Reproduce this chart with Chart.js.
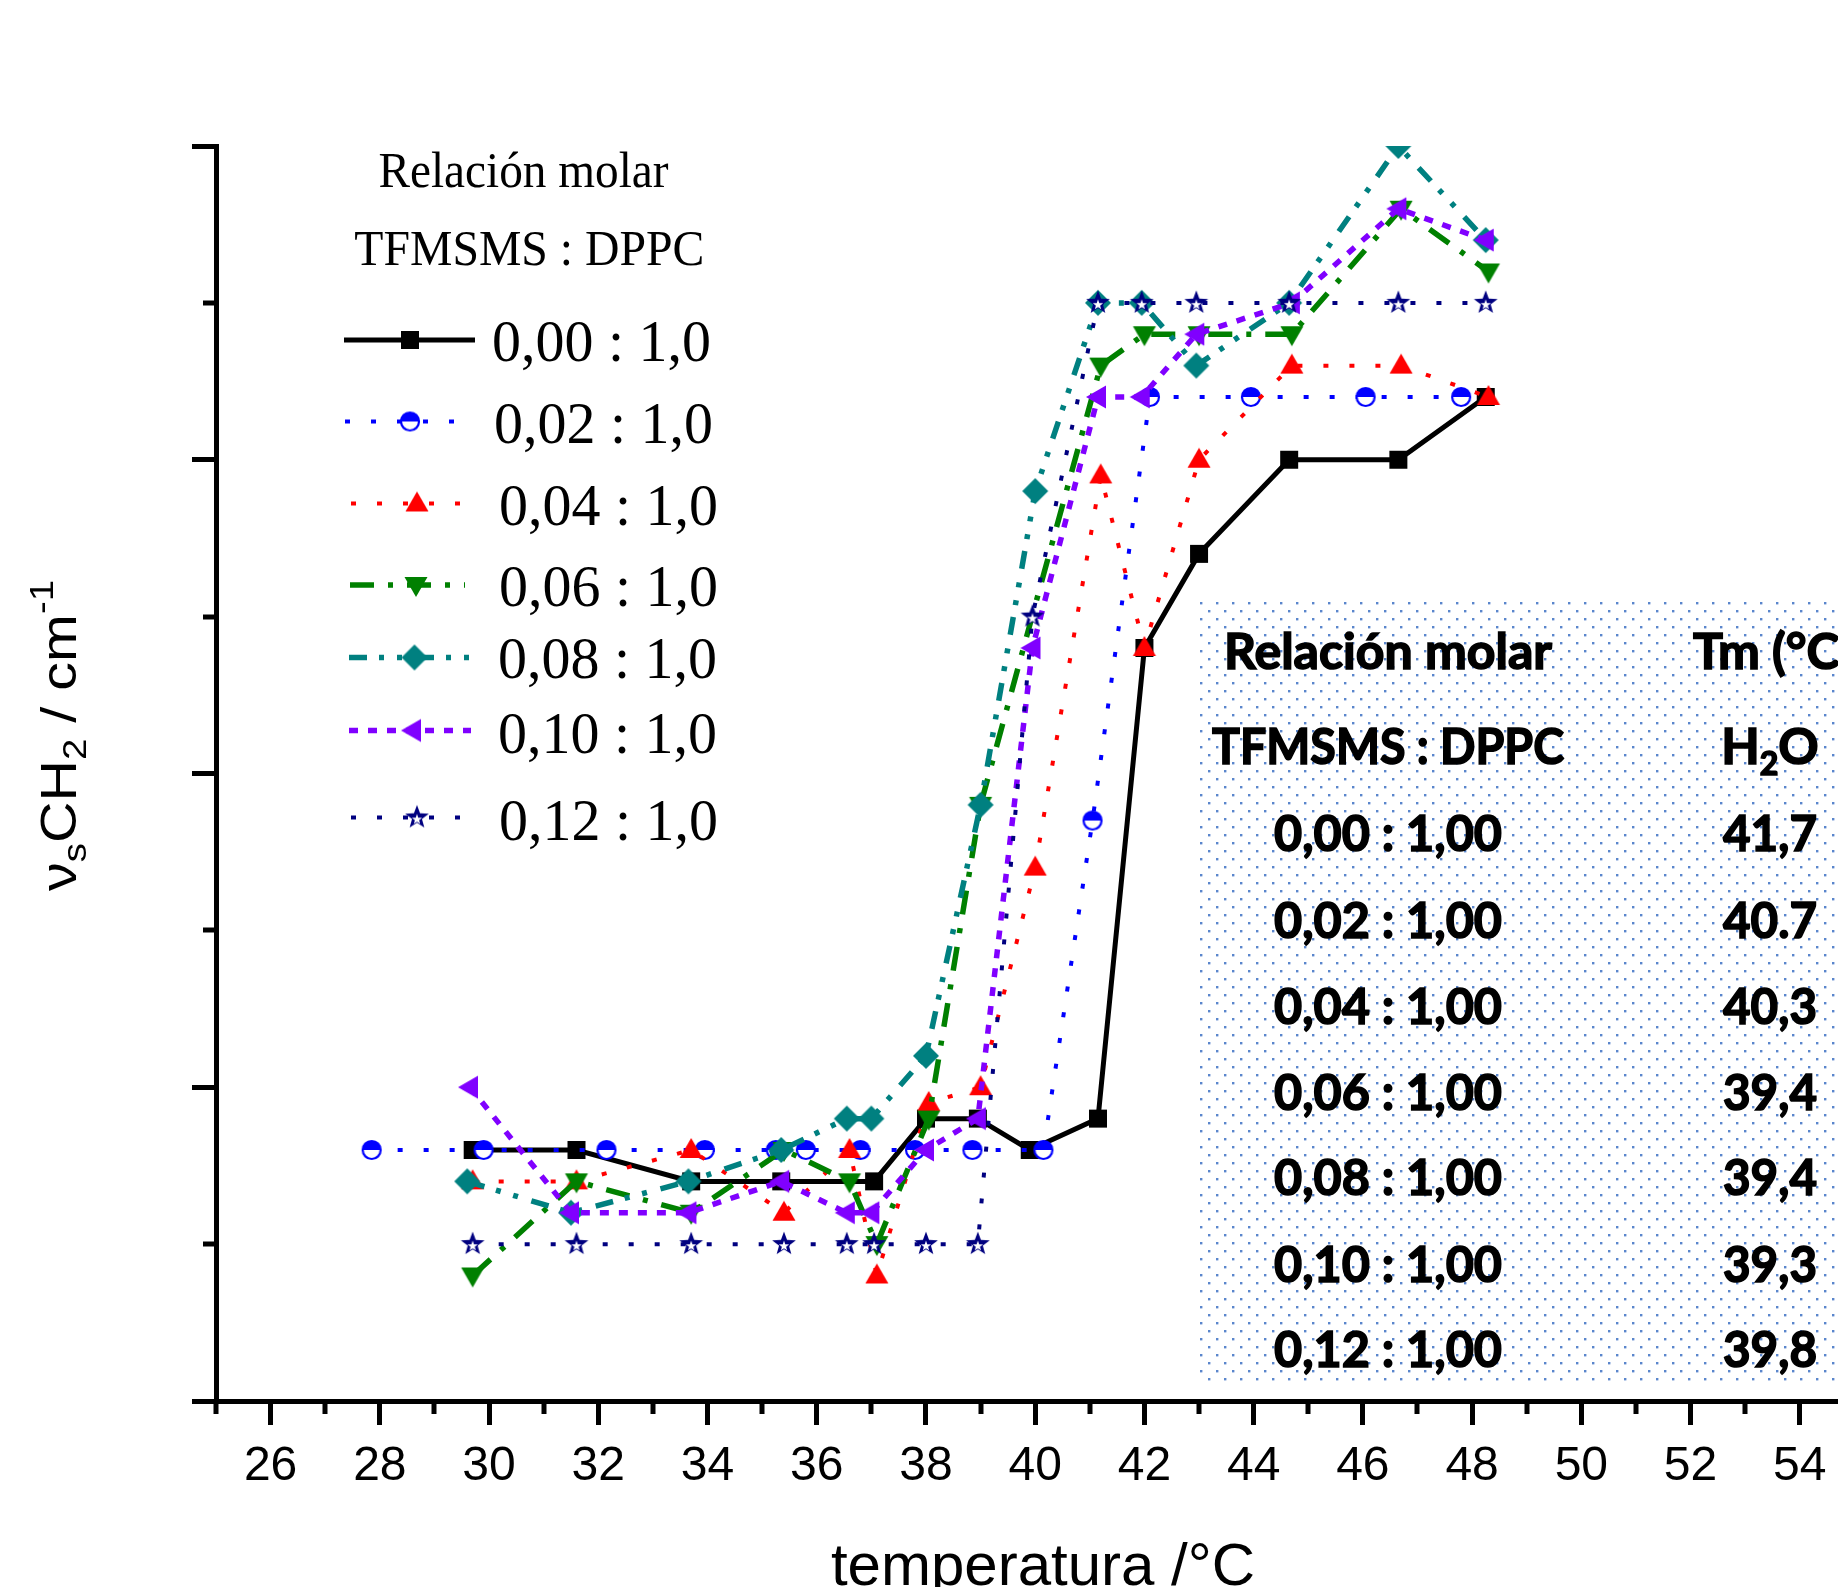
<!DOCTYPE html>
<html lang="es">
<head>
<meta charset="UTF-8">
<title>vs CH2 - temperatura</title>
<script src="https://cdn.jsdelivr.net/npm/chart.js@4.4.1/dist/chart.umd.min.js"></script>
<style>
    html, body { margin: 0; padding: 0; background: #fff; overflow: hidden; }
    #wrap { width: 1838px; height: 1587px; overflow: hidden; position: relative; background: #fff; }
    #chart { position: absolute; left: 0; top: 0; }
</style>
</head>
<body>
<div id="wrap"><canvas id="chart" width="1960" height="1650"></canvas></div>
<script>
// values: temperature (°C) and nu_s CH2 (cm-1), one pair per molar ratio
var temp000 = [29.7, 31.6, 33.7, 35.35, 37.05, 38.0, 38.95, 39.9, 41.15, 42.0, 43.0, 44.65, 46.65, 48.25];
var nu000   = [2850.8, 2850.8, 2850.7, 2850.7, 2850.7, 2850.9, 2850.9, 2850.8, 2850.9, 2852.4, 2852.7, 2853.0, 2853.0, 2853.2];

var temp002 = [27.85, 29.9, 32.15, 33.95, 35.25, 35.8, 36.8, 37.8, 38.85, 40.15, 41.05, 42.1, 43.95, 46.05, 47.8];
var nu002   = [2850.8, 2850.8, 2850.8, 2850.8, 2850.8, 2850.8, 2850.8, 2850.8, 2850.8, 2850.8, 2851.85, 2853.2, 2853.2, 2853.2, 2853.2];

var temp004 = [29.7, 31.6, 33.7, 35.4, 36.6, 37.1, 38.05, 39.0, 40.0, 41.2, 42.0, 43.0, 44.7, 46.7, 48.3];
var nu004   = [2850.7, 2850.7, 2850.8, 2850.6, 2850.8, 2850.4, 2850.95, 2851.0, 2851.7, 2852.95, 2852.4, 2853.0, 2853.3, 2853.3, 2853.2];

var temp006 = [29.7, 31.6, 33.7, 35.4, 36.6, 37.1, 38.05, 39.0, 41.2, 42.0, 43.0, 44.7, 46.7, 48.3];
var nu006   = [2850.4, 2850.7, 2850.6, 2850.8, 2850.7, 2850.5, 2850.9, 2851.9, 2853.3, 2853.4, 2853.4, 2853.4, 2853.8, 2853.6];

var temp008 = [29.6, 31.5, 33.65, 35.35, 36.55, 37.0, 38.0, 39.0, 40.0, 41.15, 41.95, 42.95, 44.65, 46.65, 48.25];
var nu008   = [2850.7, 2850.6, 2850.7, 2850.8, 2850.9, 2850.9, 2851.1, 2851.9, 2852.9, 2853.5, 2853.5, 2853.3, 2853.5, 2854.0, 2853.7];

var temp010 = [29.65, 31.5, 33.65, 35.35, 36.55, 37.0, 38.0, 38.95, 39.95, 41.15, 41.95, 42.95, 44.7, 46.65, 48.25];
var nu010   = [2851.0, 2850.6, 2850.6, 2850.7, 2850.6, 2850.6, 2850.8, 2850.9, 2852.4, 2853.2, 2853.2, 2853.4, 2853.5, 2853.8, 2853.7];

var temp012 = [29.7, 31.6, 33.7, 35.4, 36.55, 37.05, 38.0, 38.95, 39.95, 41.15, 41.95, 42.95, 44.65, 46.65, 48.25];
var nu012   = [2850.5, 2850.5, 2850.5, 2850.5, 2850.5, 2850.5, 2850.5, 2850.5, 2852.5, 2853.5, 2853.5, 2853.5, 2853.5, 2853.5, 2853.5];

var seriesLabels = ['0,00 : 1,0', '0,02 : 1,0', '0,04 : 1,0', '0,06 : 1,0', '0,08 : 1,0', '0,10 : 1,0', '0,12 : 1,0'];
var seriesColors = ['#000000', '#0000ff', '#ff0000', '#008000', '#008080', '#8000ff', '#000080'];
var seriesMarkers = ['square', 'half', 'up', 'down', 'diamond', 'left', 'star'];

// inset table
var tableRatios = ['0,00 : 1,00', '0,02 : 1,00', '0,04 : 1,00', '0,06 : 1,00', '0,08 : 1,00', '0,10 : 1,00', '0,12 : 1,00'];
var tableTm = ['41,7', '40.7', '40,3', '39,4', '39,4', '39,3', '39,8'];

var temps = [temp000, temp002, temp004, temp006, temp008, temp010, temp012];
var nus = [nu000, nu002, nu004, nu006, nu008, nu010, nu012];

// line looks
var dashes = [[], [5, 21], [5, 21], [24, 14, 5, 14], [18, 12, 5, 13, 5, 14], [9, 10], [5, 21]];
var widths = [5, 4, 4, 5.5, 5.5, 5.5, 4];

function hasFont(name) {
    var c = document.createElement('canvas').getContext('2d');
    c.font = '40px monospace';
    var a = c.measureText('26 Relación').width;
    c.font = '40px "' + name + '", monospace';
    var b = c.measureText('26 Relación').width;
    return a !== b;
}
var narrow = hasFont('Liberation Sans Narrow');
var tickFont = narrow ? { family: '"Liberation Sans Narrow"', size: 54 } : { family: '"Liberation Sans", Arial', size: 48 };

function starPath(g, cx, cy, R, r) {
    g.beginPath();
    for (var i = 0; i < 10; i++) {
        var a = -Math.PI / 2 + i * Math.PI / 5;
        var rr = (i % 2) ? r : R;
        var px = cx + rr * Math.cos(a), py = cy + rr * Math.sin(a);
        if (i === 0) g.moveTo(px, py); else g.lineTo(px, py);
    }
    g.closePath();
}

function makeMarker(kind, color) {
    var c = document.createElement('canvas');
    c.width = 34; c.height = 34;
    var g = c.getContext('2d');
    var cx = 17, cy = 17;
    g.fillStyle = color;
    g.strokeStyle = color;
    g.beginPath();
    if (kind === 'square') {
        g.rect(cx - 9, cy - 9, 18, 18);
        g.fill();
    } else if (kind === 'half') {
        g.arc(cx, cy, 9, 0, 2 * Math.PI);
        g.fillStyle = '#fff';
        g.fill();
        g.beginPath();
        g.arc(cx, cy, 9, Math.PI, 2 * Math.PI);
        g.closePath();
        g.fillStyle = color;
        g.fill();
        g.beginPath();
        g.arc(cx, cy, 9, 0, 2 * Math.PI);
        g.lineWidth = 2.2;
        g.stroke();
    } else if (kind === 'up') {
        g.moveTo(cx, cy - 12); g.lineTo(cx + 11.5, cy + 8); g.lineTo(cx - 11.5, cy + 8);
        g.closePath(); g.fill();
    } else if (kind === 'down') {
        g.moveTo(cx, cy + 12); g.lineTo(cx + 11.5, cy - 8); g.lineTo(cx - 11.5, cy - 8);
        g.closePath(); g.fill();
    } else if (kind === 'diamond') {
        g.moveTo(cx, cy - 13); g.lineTo(cx + 13, cy); g.lineTo(cx, cy + 13); g.lineTo(cx - 13, cy);
        g.closePath(); g.fill();
    } else if (kind === 'left') {
        g.moveTo(cx - 12, cy); g.lineTo(cx + 8, cy - 11.5); g.lineTo(cx + 8, cy + 11.5);
        g.closePath(); g.fill();
    } else if (kind === 'star') {
        starPath(g, cx, cy, 12.5, 5.2);
        g.fill();
        starPath(g, cx, cy + 2, 5.4, 2.2);
        g.fillStyle = '#fff';
        g.fill();
    }
    return c;
}

var markers = seriesMarkers.map(function (k, i) { return makeMarker(k, seriesColors[i]); });

var datasets = temps.map(function (t, i) {
    return {
        label: seriesLabels[i],
        data: t.map(function (v, j) { return { x: v, y: nus[i][j] }; }),
        borderColor: seriesColors[i],
        backgroundColor: seriesColors[i],
        borderWidth: widths[i],
        borderDash: dashes[i],
        borderCapStyle: 'butt',
        tension: 0,
        fill: false,
        pointStyle: markers[i],
        pointRadius: 12,
        pointHoverRadius: 12,
        order: 6 - i
    };
});

// text squeezed/stretched horizontally to a given width
function fitText(ctx, text, x, y, width, align, stroke) {
    var w = ctx.measureText(text).width;
    ctx.save();
    ctx.translate(x, y);
    ctx.scale(width / w, 1);
    ctx.textAlign = align || 'left';
    ctx.fillText(text, 0, 0);
    if (stroke) {
        ctx.lineWidth = stroke;
        ctx.strokeStyle = ctx.fillStyle;
        ctx.strokeText(text, 0, 0);
    }
    ctx.restore();
}

function drawMinorTicks(chart) {
    var ctx = chart.ctx, xs = chart.scales.x, ys = chart.scales.y, area = chart.chartArea;
    ctx.save();
    ctx.strokeStyle = '#000';
    ctx.lineWidth = 5;
    ctx.beginPath();
    for (var v = 25; v <= 56; v += 2) {
        var px = Math.round(xs.getPixelForValue(v));
        ctx.moveTo(px, area.bottom);
        ctx.lineTo(px, area.bottom + 13);
    }
    for (var w = 2850.5; w < 2854; w += 1) {
        var py = Math.round(ys.getPixelForValue(w));
        ctx.moveTo(area.left, py);
        ctx.lineTo(area.left - 13, py);
    }
    ctx.stroke();
    ctx.restore();
}

function drawTitles(ctx) {
    ctx.save();
    ctx.fillStyle = '#000';
    ctx.textBaseline = 'alphabetic';
    ctx.font = '60px "Liberation Sans", Arial, sans-serif';
    ctx.textAlign = 'center';
    ctx.fillText('temperatura /°C', 1043, 1585);

    // rotated y title with sub/superscripts
    var big = '57px "Liberation Sans", Arial, sans-serif';
    var small = '38px "Liberation Sans", Arial, sans-serif';
    var parts = [['ν', big, 0], ['s', small, 12], ['CH', big, 0], ['2', small, 12], [' / cm', big, 0], ['-1', small, -27]];
    var total = 0;
    parts.forEach(function (p) { ctx.font = p[1]; total += ctx.measureText(p[0]).width; });
    ctx.translate(76, 891);
    ctx.rotate(-Math.PI / 2);
    ctx.scale(311 / total, 0.87);
    ctx.textAlign = 'left';
    var x = 0;
    parts.forEach(function (p) {
        ctx.font = p[1];
        ctx.fillText(p[0], x, p[2]);
        x += ctx.measureText(p[0]).width;
    });
    ctx.restore();
}

function drawLegend(ctx) {
    var rows = [
        { y: 340, x1: 344, x2: 475, mx: 410, tx: 492, ty: 361 },
        { y: 421.5, x1: 345, x2: 473, mx: 410, tx: 494, ty: 442.5 },
        { y: 503.5, x1: 351, x2: 480, mx: 417, tx: 499, ty: 525 },
        { y: 585, x1: 350, x2: 465, mx: 416, tx: 499, ty: 605.5 },
        { y: 657.5, x1: 349, x2: 473, mx: 414.5, tx: 498, ty: 678 },
        { y: 730.5, x1: 349, x2: 471, mx: 413, tx: 498, ty: 753 },
        { y: 817.5, x1: 351, x2: 480, mx: 417, tx: 499, ty: 840 }
    ];
    ctx.save();
    ctx.fillStyle = '#000';
    ctx.textBaseline = 'alphabetic';
    ctx.font = '50px "Liberation Serif", "Times New Roman", serif';
    fitText(ctx, 'Relación molar', 523.5, 187, 290, 'center');
    fitText(ctx, 'TFMSMS : DPPC', 529.3, 265, 350, 'center');
    rows.forEach(function (r, i) {
        ctx.save();
        ctx.strokeStyle = seriesColors[i];
        ctx.lineWidth = widths[i];
        ctx.lineCap = 'butt';
        ctx.setLineDash(dashes[i]);
        ctx.beginPath();
        ctx.moveTo(r.x1, r.y);
        ctx.lineTo(r.x2, r.y);
        ctx.stroke();
        ctx.restore();
        ctx.drawImage(markers[i], r.mx - 17, r.y - 17);
        ctx.font = '60px "Liberation Serif", "Times New Roman", serif';
        ctx.fillStyle = '#000';
        fitText(ctx, seriesLabels[i], r.tx, r.ty, 219, 'left');
    });
    ctx.restore();
}

function drawTable(ctx) {
    var x0 = 1198, y0 = 600, x1 = 1960, y1 = 1380;
    var bold = 'bold 50px Lato, "Open Sans", sans-serif';
    var boldSmall = 'bold 32px Lato, "Open Sans", sans-serif';
    ctx.save();
    ctx.fillStyle = '#fff';
    ctx.fillRect(x0, y0, x1 - x0, y1 - y0);
    ctx.fillStyle = '#5a86cc';
    var row = 0;
    for (var y = y0 + 3; y < y1; y += 8, row++) {
        for (var x = x0 + 3 + (row % 2) * 8; x < x1; x += 16) {
            ctx.fillRect(x - 1, y - 1, 2.4, 2.4);
        }
    }
    ctx.fillStyle = '#000';
    ctx.textBaseline = 'alphabetic';
    ctx.font = bold;
    var sq = 328 / ctx.measureText('Relación molar').width;
    fitText(ctx, 'Relación molar', 1388, 669, 328, 'center', 1.6);
    fitText(ctx, 'TFMSMS : DPPC', 1388, 764, 352, 'center', 1.6);
    // "Tm (°C)" uses the header squeeze
    ctx.save();
    ctx.translate(1693, 669);
    ctx.scale(sq, 1);
    ctx.textAlign = 'left';
    ctx.lineWidth = 1.6;
    ctx.strokeStyle = '#000';
    ctx.fillText('Tm (°C)', 0, 0);
    ctx.strokeText('Tm (°C)', 0, 0);
    ctx.restore();
    // H2O with subscript
    var hW = ctx.measureText('H').width, oW = ctx.measureText('O').width;
    ctx.font = boldSmall;
    var sW = ctx.measureText('2').width;
    var tot = (hW + oW + sW) * sq;
    var hx = 1770 - tot / 2;
    ctx.save();
    ctx.translate(hx, 764);
    ctx.scale(sq, 1);
    ctx.textAlign = 'left';
    ctx.lineWidth = 1.6;
    ctx.strokeStyle = '#000';
    ctx.font = bold;
    ctx.fillText('H', 0, 0); ctx.strokeText('H', 0, 0);
    ctx.font = boldSmall;
    ctx.fillText('2', hW, 11); ctx.strokeText('2', hW, 11);
    ctx.font = bold;
    ctx.fillText('O', hW + sW, 0); ctx.strokeText('O', hW + sW, 0);
    ctx.restore();

    var base = [851, 938, 1024, 1110, 1195, 1282, 1367];
    ctx.font = bold;
    tableRatios.forEach(function (t, i) {
        fitText(ctx, t, 1388, base[i], 228, 'center', 1.6);
        fitText(ctx, tableTm[i], 1770, base[i], 94, 'center', 1.6);
    });
    ctx.restore();
}

var decorations = {
    id: 'decorations',
    afterDraw: function (chart) {
        var ctx = chart.ctx;
        drawMinorTicks(chart);
        drawTable(ctx);
        drawLegend(ctx);
        drawTitles(ctx);
    }
};

var chart = new Chart(document.getElementById('chart'), {
    type: 'line',
    data: { datasets: datasets },
    options: {
        responsive: false,
        animation: false,
        devicePixelRatio: 1,
        events: [],
        layout: { padding: { left: 0, top: 146, right: 51, bottom: 0 } },
        plugins: {
            legend: { display: false },
            tooltip: { enabled: false }
        },
        scales: {
            x: {
                type: 'linear',
                min: 25,
                max: 56,
                afterFit: function (s) { s.height = 249; },
                border: { display: true, color: '#000', width: 5 },
                grid: { display: true, drawOnChartArea: false, drawTicks: true, tickLength: 24, tickWidth: 5, tickColor: '#000' },
                ticks: {
                    stepSize: 2,
                    includeBounds: false,
                    autoSkip: false,
                    maxRotation: 0,
                    padding: 13,
                    color: '#000',
                    font: tickFont
                }
            },
            y: {
                type: 'linear',
                min: 2850,
                max: 2854,
                afterFit: function (s) { s.width = 216; },
                border: { display: true, color: '#000', width: 5 },
                grid: { display: true, drawOnChartArea: false, drawTicks: true, tickLength: 24, tickWidth: 5, tickColor: '#000' },
                ticks: { stepSize: 1, display: false }
            }
        }
    },
    plugins: [decorations]
});
</script>
</body>
</html>
